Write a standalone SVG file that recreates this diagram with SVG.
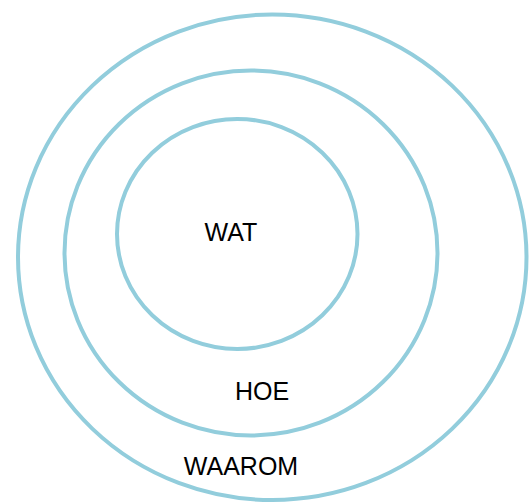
<svg xmlns="http://www.w3.org/2000/svg" width="529" height="502" viewBox="0 0 529 502">
<style>
.ring{fill:none;stroke:#92CDDC;stroke-width:4}
.lbl{font-family:"Liberation Sans",Arial,sans-serif;font-size:25px;fill:#000;text-anchor:middle}
</style>
<rect width="529" height="502" fill="#fff"/>
<g id="waarom">
<ellipse class="ring" cx="272.25" cy="257.25" rx="254.25" ry="242.75"/>
<text class="lbl" x="241" y="475">WAAROM</text>
</g>
<g id="hoe">
<ellipse class="ring" cx="251" cy="253" rx="186.5" ry="182.5"/>
<text class="lbl" x="262" y="400">HOE</text>
</g>
<g id="wat">
<ellipse class="ring" cx="237.25" cy="234" rx="120.25" ry="115"/>
<text class="lbl" x="231" y="241">WAT</text>
</g>
<g id="connectors"/>
</svg>
